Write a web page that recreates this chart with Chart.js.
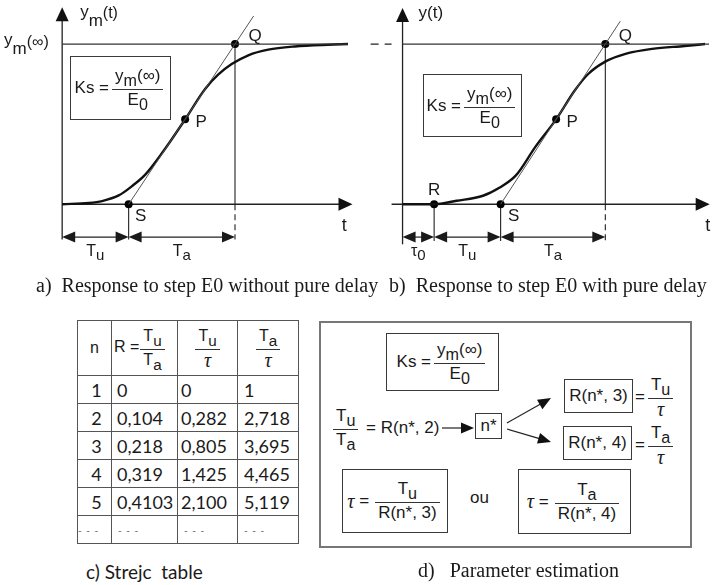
<!DOCTYPE html>
<html>
<head>
<meta charset="utf-8">
<script src="https://cdn.jsdelivr.net/npm/chart.js@4"></script>
<style>
  body { margin: 0; width: 715px; height: 585px; position: relative; overflow: hidden; background: #fff; color: #1a1a1a;
         font-family: "Liberation Sans", Arial, sans-serif; }
  .abs { position: absolute; }
  .box { position: absolute; box-sizing: border-box; border: 1.5px solid #3a3a3a; display: flex; align-items: center;
         justify-content: center; font-size: 17px; white-space: nowrap; }
  .row { position: absolute; display: flex; align-items: center; font-size: 17px; white-space: nowrap; }
  .frac { display: inline-flex; flex-direction: column; align-items: stretch; vertical-align: middle; margin: 0 3px; }
  .frac > span { line-height: 18px; padding: 0 3px; text-align: center; }
  .frac > span:first-child { padding-bottom: 4px; }
  .frac > span + span { border-top: 1px solid #333; padding-top: 1px; }
  sub { font-size: 0.95em; vertical-align: -0.3em; line-height: 0; }
  .tau { font-family: "Liberation Serif", serif; font-style: italic; font-size: 20px; line-height: 19px; }
  .cap { position: absolute; font-family: "Liberation Serif", "Times New Roman", serif; font-size: 20px; line-height: 22px; white-space: nowrap; }
  #strejc { position: absolute; left: 77px; top: 320px; border-collapse: collapse; table-layout: fixed; }
  #strejc td, #strejc th { border: 1.5px solid #555; padding: 0; font-weight: normal; }
  #strejc th { font-size: 16px; }
  #strejc td { font-family: Lato, "Open Sans", sans-serif; font-size: 18px; height: 27px; }
  #strejc td.n { text-align: center; padding-left: 4px; }
  #strejc td.v { padding-left: 6px; }
  #strejc td.more { color: #555; font-size: 10px; letter-spacing: 1px; }
</style>
</head>
<body>

<div class="abs" style="left:0;top:0;width:357px;height:275px"><canvas id="chartA" width="357" height="275"></canvas></div>
<div class="abs" style="left:357px;top:0;width:358px;height:275px"><canvas id="chartB" width="358" height="275"></canvas></div>

<div class="box" style="left:70px;top:56px;width:101px;height:64px">Ks =<span class="frac"><span>y<sub>m</sub>(∞)</span><span>E<sub>0</sub></span></span></div>
<div class="box" style="left:423px;top:74px;width:99px;height:63px">Ks =<span class="frac"><span>y<sub>m</sub>(∞)</span><span>E<sub>0</sub></span></span></div>

<div class="cap" style="left:36px;top:274px">a)&nbsp; Response to step E0 without pure delay</div>
<div class="cap" style="left:389px;top:274px">b)&nbsp; Response to step E0 with pure delay</div>

<table id="strejc">
  <colgroup><col style="width:34px"><col style="width:66px"><col style="width:60px"><col style="width:61px"></colgroup>
  <thead>
    <tr style="height:55px">
      <th>n</th>
      <th style="text-align:left;padding-left:2px">R =<span class="frac" style="margin-left:1px"><span>T<sub>u</sub></span><span>T<sub>a</sub></span></span></th>
      <th><span class="frac"><span>T<sub>u</sub></span><span class="tau">τ</span></span></th>
      <th><span class="frac"><span>T<sub>a</sub></span><span class="tau">τ</span></span></th>
    </tr>
  </thead>
  <tbody id="strejcRows"></tbody>
</table>
<div class="cap" style="left:86px;top:561px;font-family:Lato,'Open Sans',sans-serif;font-size:19px">c) Strejc&nbsp; table</div>

<div class="abs" style="left:319px;top:321px;width:373px;height:227px;box-sizing:border-box;border:2px solid #777"></div>
<div class="box" style="left:386px;top:333px;width:113px;height:58px">Ks =<span class="frac"><span>y<sub>m</sub>(∞)</span><span>E<sub>0</sub></span></span></div>
<div class="row" style="left:330px;top:406px;height:44px"><span class="frac"><span>T<sub>u</sub></span><span>T<sub>a</sub></span></span>&nbsp;= R(n*, 2)</div>
<div class="box" style="left:475px;top:413px;width:27px;height:26px">n*</div>
<div class="box" style="left:564px;top:379px;width:69px;height:34px">R(n*, 3)</div>
<div class="row" style="left:635px;top:375px;height:44px">=<span class="frac"><span>T<sub>u</sub></span><span class="tau">τ</span></span></div>
<div class="box" style="left:563px;top:426px;width:69px;height:34px">R(n*, 4)</div>
<div class="row" style="left:635px;top:423px;height:44px">=<span class="frac"><span>T<sub>a</sub></span><span class="tau">τ</span></span></div>
<div class="box" style="left:342px;top:469px;width:106px;height:64px"><span class="tau">τ</span>&nbsp;=<span class="frac" style="margin-left:6px"><span>T<sub>u</sub></span><span>R(n*, 3)</span></span></div>
<div class="row" style="left:470px;top:487px;height:22px">ou</div>
<div class="box" style="left:518px;top:469px;width:113px;height:65px"><span class="tau">τ</span>&nbsp;=<span class="frac" style="margin-left:6px"><span>T<sub>a</sub></span><span>R(n*, 4)</span></span></div>
<svg id="flow" class="abs" style="left:0;top:0" width="715" height="585"></svg>
<div class="cap" style="left:418px;top:559px">d)&nbsp;&nbsp; Parameter estimation</div>

<script>
// response without pure delay (t in arbitrary time units, y normalised to ym(inf))
const curveA_t = [0, 0.8, 1.2, 1.7, 2.1, 2.5, 3.0, 3.7, 4.3, 4.7, 5.1, 5.6, 6.2, 7.0, 8.0, 8.6];
const curveA_y = [0, 0.008, 0.02, 0.055, 0.113, 0.185, 0.318, 0.53, 0.72, 0.81, 0.875, 0.93, 0.965, 0.985, 0.996, 1.0];
const marksA_name = ['S', 'P', 'Q'];
const marksA_t = [2.0, 3.7, 5.2];
const marksA_y = [0, 0.53, 1];
const tangentA_t = [2.0, 5.76];
const tangentA_y = [0, 1.175];
const levelA_t = [0, 8.6];
const dimsA_t = [0, 2.0, 5.2];
const dimsA_label = [['T', 'u'], ['T', 'a']];

// response with pure delay
const curveB_t = [0, 0.95, 1.63, 2.42, 2.91, 3.41, 4.0, 4.62, 5.18, 5.57, 6.1, 6.73, 7.51, 8.49, 9.1];
const curveB_y = [0, 0, 0.022, 0.053, 0.103, 0.18, 0.36, 0.53, 0.71, 0.81, 0.89, 0.94, 0.97, 0.988, 1.0];
const marksB_name = ['R', 'S', 'P', 'Q'];
const marksB_t = [0.95, 2.95, 4.62, 6.1];
const marksB_y = [0, 0, 0.53, 1];
const tangentB_t = [2.95, 6.55];
const tangentB_y = [0, 1.143];
const levelB_t = [0, 9.22];
const dimsB_t = [0, 0.95, 2.95, 6.1];
const dimsB_label = [['τ', '0'], ['T', 'u'], ['T', 'a']];

// Strejc table
const strejcN = [1, 2, 3, 4, 5];
const strejcR = [0, 0.104, 0.218, 0.319, 0.4103];
const strejcTuTau = [0, 0.282, 0.805, 1.425, 2.1];
const strejcTaTau = [1, 2.718, 3.695, 4.465, 5.119];

const FONT = '"Liberation Sans", Arial, sans-serif';
const pts = (ts, ys) => ts.map((t, i) => ({ x: t, y: ys[i] }));

function seg(ctx, x1, y1, x2, y2) {
  ctx.beginPath(); ctx.moveTo(x1, y1); ctx.lineTo(x2, y2); ctx.stroke();
}
function head(ctx, x, y, dx, dy, len = 13, half = 5.5) {
  const bx = x - dx * len, by = y - dy * len;
  ctx.beginPath();
  ctx.moveTo(x, y);
  ctx.lineTo(bx - dy * half, by + dx * half);
  ctx.lineTo(bx + dy * half, by - dx * half);
  ctx.closePath(); ctx.fill();
}
// text made of runs, each with its own size and vertical shift
function rich(ctx, runs, x, y, align) {
  const widths = runs.map(r => { ctx.font = (r.size || 16) + 'px ' + FONT; return ctx.measureText(r.t).width; });
  const total = widths.reduce((a, b) => a + b, 0);
  let cx = align === 'center' ? x - total / 2 : x;
  ctx.textAlign = 'left'; ctx.textBaseline = 'alphabetic';
  runs.forEach((r, i) => {
    ctx.font = (r.size || 16) + 'px ' + FONT;
    ctx.fillText(r.t, cx, y + (r.dy || 0));
    cx += widths[i];
  });
}

const diagram = {
  id: 'diagram',
  beforeDatasetsDraw(chart, args, o) {
    const ctx = chart.ctx;
    const X = v => chart.scales.x.getPixelForValue(v);
    const Y = v => chart.scales.y.getPixelForValue(v);
    ctx.save();
    ctx.strokeStyle = '#222'; ctx.fillStyle = '#111'; ctx.lineWidth = 1.3;
    // y axis
    seg(ctx, X(0), Y(o.yAxis[0]), X(0), Y(o.yAxis[1]) + 12);
    head(ctx, X(0), Y(o.yAxis[1]), 0, -1, 14, 6.5);
    // time axis
    seg(ctx, X(o.tAxis[0]), Y(0), X(o.tAxis[1]) - 12, Y(0));
    head(ctx, X(o.tAxis[1]), Y(0), 1, 0, 14, 6.5);
    // dashed stub on the left of the steady-state level
    if (o.levelStub) {
      ctx.setLineDash([8, 6]);
      seg(ctx, X(o.levelStub[0]), Y(1), X(o.levelStub[1]), Y(1));
      ctx.setLineDash([]);
    }
    // drop lines from the marked instants
    const d = o.dims;
    ctx.lineWidth = 1.1;
    for (let i = 1; i < d.length; i++) {
      const last = i === d.length - 1;
      if (last) {
        seg(ctx, X(d[i]), Y(1), X(d[i]), Y(0));
        ctx.setLineDash([6, 4]);
        seg(ctx, X(d[i]), Y(0), X(d[i]), Y(o.dropTo));
        ctx.setLineDash([]);
      } else {
        seg(ctx, X(d[i]), Y(0), X(d[i]), Y(o.dropTo));
      }
    }
    ctx.restore();
  },
  afterDatasetsDraw(chart, args, o) {
    const ctx = chart.ctx;
    const X = v => chart.scales.x.getPixelForValue(v);
    const Y = v => chart.scales.y.getPixelForValue(v);
    ctx.save();
    ctx.strokeStyle = '#222'; ctx.fillStyle = '#1a1a1a'; ctx.lineWidth = 1.2;
    // dimension arrows between instants
    const d = o.dims, yd = Y(o.dimY);
    for (let i = 0; i < d.length - 1; i++) {
      const x1 = X(d[i]), x2 = X(d[i + 1]);
      seg(ctx, x1 + 6, yd, x2 - 6, yd);
      head(ctx, x1, yd, -1, 0, 13, 5.5);
      head(ctx, x2, yd, 1, 0, 13, 5.5);
      const lab = o.dimLabels[i];
      rich(ctx, [{ t: lab[0], size: 16 }, { t: lab[1], size: 15, dy: 4 }], (x1 + x2) / 2, Y(o.labelY), 'center');
    }
    // point names
    o.marks.forEach((m, i) => {
      const off = o.markOffsets[i];
      rich(ctx, [{ t: m.name, size: 17 }], X(m.x) + off[0], Y(m.y) + off[1] + 6, 'center');
    });
    // axis titles
    rich(ctx, [{ t: 't', size: 18 }], X(o.tLabel[0]), Y(o.tLabel[1]) + 6, 'center');
    rich(ctx, o.yTitle, X(0) + o.yTitleAt[0], o.yTitleAt[1], 'left');
    if (o.levelTitle) rich(ctx, o.levelTitle, 4, Y(1) + 1, 'left');
    ctx.restore();
  }
};

function responseChart(id, s) {
  return new Chart(document.getElementById(id), {
    type: 'line',
    data: {
      datasets: [
        { data: pts(s.level, s.level.map(() => 1)), borderColor: '#333', borderWidth: 1.3, pointRadius: 0, clip: false },
        { data: pts(s.tanT, s.tanY), borderColor: '#555', borderWidth: 1, pointRadius: 0, clip: false },
        { data: pts(s.curveT, s.curveY), borderColor: '#111', borderWidth: 2.4, pointRadius: 0,
          cubicInterpolationMode: 'monotone', clip: false },
        { data: pts(s.markT, s.markY), showLine: false, pointRadius: 4, pointBackgroundColor: '#000',
          pointBorderWidth: 0, clip: false }
      ]
    },
    options: {
      responsive: false, animation: false, events: [],
      layout: { padding: 0 },
      scales: {
        x: { type: 'linear', min: s.xMin, max: s.xMax, display: false },
        y: { type: 'linear', min: -5 / 12, max: 1.25, display: false }
      },
      plugins: {
        legend: { display: false }, tooltip: { enabled: false },
        diagram: {
          yAxis: s.yAxis, tAxis: s.tAxis, levelStub: s.levelStub, dims: s.dims, dimLabels: s.dimLabels,
          dropTo: s.dropTo, dimY: -0.205, labelY: -0.32,
          marks: s.markNames.map((n, i) => ({ name: n, x: s.markT[i], y: s.markY[i] })),
          markOffsets: s.markOffsets, tLabel: s.tLabel, yTitle: s.yTitle, yTitleAt: s.yTitleAt,
          levelTitle: s.levelTitle
        }
      }
    },
    plugins: [diagram]
  });
}

responseChart('chartA', {
  xMin: -1.75, xMax: 8.75,
  curveT: curveA_t, curveY: curveA_y, tanT: tangentA_t, tanY: tangentA_y, level: levelA_t,
  markNames: marksA_name, markT: marksA_t, markY: marksA_y,
  markOffsets: [[12, 11], [16, 2], [20, -9]],
  dims: dimsA_t, dimLabels: dimsA_label, dropTo: -0.22,
  yAxis: [-0.22, 1.23], tAxis: [0, 8.735], levelStub: null,
  tLabel: [8.49, -0.13],
  yTitle: [{ t: 'y', size: 17 }, { t: 'm', size: 17, dy: 9 }, { t: '(t)', size: 16, dy: 1 }], yTitleAt: [18, 17],
  levelTitle: [{ t: 'y', size: 17 }, { t: 'm', size: 17, dy: 9 }, { t: '(∞)', size: 16, dy: 2 }]
});

responseChart('chartB', {
  xMin: -1.25, xMax: 9.279,
  curveT: curveB_t, curveY: curveB_y, tanT: tangentB_t, tanY: tangentB_y, level: levelB_t,
  markNames: marksB_name, markT: marksB_t, markY: marksB_y,
  markOffsets: [[0, -15], [13, 11], [16, 2], [20, -9]],
  dims: dimsB_t, dimLabels: dimsB_label, dropTo: -0.23,
  yAxis: [-0.25, 1.225], tAxis: [-0.33, 9.24], levelStub: [-0.96, -0.33],
  tLabel: [9.18, -0.13],
  yTitle: [{ t: 'y(t)', size: 17 }], yTitleAt: [16, 18],
  levelTitle: null
});

// Strejc table rows
const fmt = v => Number.isInteger(v) ? String(v)
  : v.toFixed(Math.max(3, String(v).split('.')[1].length)).replace('.', ',');
const body = document.getElementById('strejcRows');
strejcN.forEach((n, i) => {
  const tr = document.createElement('tr');
  tr.innerHTML = `<td class="n">${n}</td><td class="v" style="padding-left:5px">${fmt(strejcR[i])}</td>` +
    `<td class="v" style="padding-left:3px">${fmt(strejcTuTau[i])}</td><td class="v" style="padding-left:6px">${fmt(strejcTaTau[i])}</td>`;
  body.appendChild(tr);
});
const more = document.createElement('tr');
more.innerHTML = '<td class="more">- - -</td><td class="v more">- - -</td><td class="v more">- - -</td><td class="v more">- - -</td>';
body.appendChild(more);

// arrows of the estimation flow
const svg = document.getElementById('flow');
function flowArrow(x1, y1, x2, y2) {
  const ns = 'http://www.w3.org/2000/svg';
  const len = Math.hypot(x2 - x1, y2 - y1), ux = (x2 - x1) / len, uy = (y2 - y1) / len;
  const bx = x2 - ux * 13, by = y2 - uy * 13;
  const l = document.createElementNS(ns, 'line');
  l.setAttribute('x1', x1); l.setAttribute('y1', y1); l.setAttribute('x2', bx + ux); l.setAttribute('y2', by + uy);
  l.setAttribute('stroke', '#222'); l.setAttribute('stroke-width', '1.2');
  const p = document.createElementNS(ns, 'polygon');
  p.setAttribute('points', `${x2},${y2} ${bx - uy * 5.5},${by + ux * 5.5} ${bx + uy * 5.5},${by - ux * 5.5}`);
  p.setAttribute('fill', '#111');
  svg.appendChild(l); svg.appendChild(p);
}
flowArrow(442, 428, 474, 428);
flowArrow(507, 423, 551, 398);
flowArrow(507, 429, 551, 442);
</script>
</body>
</html>
